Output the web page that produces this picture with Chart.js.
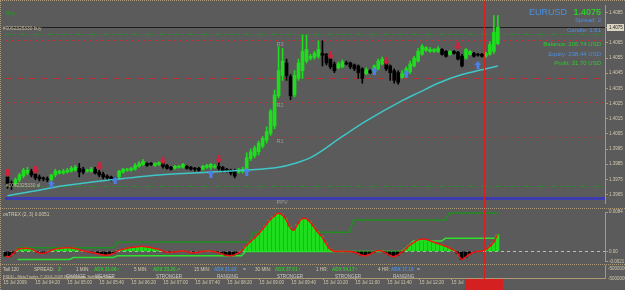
<!DOCTYPE html>
<html>
<head>
<meta charset="utf-8">
<script src="https://cdn.jsdelivr.net/npm/chart.js@4.4.1/dist/chart.umd.min.js"></script>
<style>
  html, body { margin: 0; padding: 0; background: #5b5b5b; }
  #wrap { position: relative; width: 625px; height: 290px; overflow: hidden; background: #5b5b5b; }
  canvas { position: absolute; left: 0; }
  .sep { position: absolute; left: 0; width: 625px; height: 0; border-top: 1px dotted #ae9a76; }
</style>
</head>
<body>
<div id="wrap">
  <canvas id="mainChart" width="625" height="208" style="top:0px"></canvas>
  <canvas id="oscChart" width="625" height="57" style="top:208px"></canvas>
  <canvas id="panelChart" width="625" height="25" style="top:265px"></canvas>
  <div class="sep" style="top:0px"></div>
  <div class="sep" style="top:208px"></div>
  <div class="sep" style="top:264px"></div>
  <div style="position:absolute;left:0;top:0;width:0;height:290px;border-left:1px dotted #ae9a76"></div>
</div>
<script>
// M5 candles, EURUSD
const opens = [
  1.39766, 1.39728, 1.39721, 1.39747, 1.39772, 1.39791, 1.39804, 1.39785, 1.39766, 1.39760,
  1.39753, 1.39747, 1.39779, 1.39791, 1.39791, 1.39798, 1.39804, 1.39810, 1.39823, 1.39817,
  1.39804, 1.39804, 1.39817, 1.39798, 1.39785, 1.39772, 1.39766, 1.39760, 1.39766, 1.39798,
  1.39810, 1.39810, 1.39817, 1.39836, 1.39849, 1.39855, 1.39855, 1.39842, 1.39849, 1.39855,
  1.39842, 1.39830, 1.39823, 1.39830, 1.39830, 1.39836, 1.39830, 1.39823, 1.39823, 1.39817,
  1.39830, 1.39830, 1.39830, 1.39836, 1.39830, 1.39817, 1.39810, 1.39804, 1.39798, 1.39804,
  1.39817, 1.39887, 1.39906, 1.39932, 1.39970, 1.40008, 1.40053, 1.40103, 1.40301, 1.40435,
  1.40518, 1.40428, 1.40307, 1.40416, 1.40467, 1.40530, 1.40549, 1.40556, 1.40562, 1.40581,
  1.40575, 1.40543, 1.40511, 1.40486, 1.40492, 1.40518, 1.40518, 1.40505, 1.40498, 1.40479,
  1.40447, 1.40467, 1.40454, 1.40479, 1.40511, 1.40530, 1.40498, 1.40467, 1.40454, 1.40422,
  1.40435, 1.40460, 1.40498, 1.40530, 1.40575, 1.40600, 1.40594, 1.40594, 1.40594, 1.40607,
  1.40594, 1.40575, 1.40594, 1.40588, 1.40562, 1.40549, 1.40575, 1.40581, 1.40575, 1.40575,
  1.40562, 1.40575, 1.40594, 1.40645
];
const highs = [
  1.39785, 1.39740, 1.39760, 1.39791, 1.39823, 1.39830, 1.39817, 1.39798, 1.39779, 1.39766,
  1.39766, 1.39785, 1.39817, 1.39810, 1.39817, 1.39823, 1.39836, 1.39842, 1.39855, 1.39830,
  1.39817, 1.39830, 1.39830, 1.39810, 1.39798, 1.39779, 1.39772, 1.39766, 1.39810, 1.39823,
  1.39823, 1.39830, 1.39855, 1.39868, 1.39881, 1.39861, 1.39861, 1.39861, 1.39868, 1.39861,
  1.39849, 1.39836, 1.39842, 1.39842, 1.39855, 1.39842, 1.39836, 1.39830, 1.39830, 1.39842,
  1.39849, 1.39855, 1.39849, 1.39861, 1.39836, 1.39823, 1.39817, 1.39817, 1.39823, 1.39830,
  1.39925, 1.39951, 1.39970, 1.40002, 1.40033, 1.40097, 1.40212, 1.40339, 1.40626, 1.40613,
  1.40543, 1.40441, 1.40467, 1.40543, 1.40702, 1.40702, 1.40575, 1.40594, 1.40664, 1.40664,
  1.40581, 1.40556, 1.40524, 1.40524, 1.40537, 1.40530, 1.40524, 1.40511, 1.40505, 1.40486,
  1.40486, 1.40473, 1.40505, 1.40543, 1.40556, 1.40537, 1.40505, 1.40479, 1.40467, 1.40467,
  1.40492, 1.40530, 1.40562, 1.40613, 1.40639, 1.40626, 1.40619, 1.40613, 1.40626, 1.40613,
  1.40600, 1.40600, 1.40600, 1.40594, 1.40575, 1.40613, 1.40600, 1.40588, 1.40581, 1.40581,
  1.40588, 1.40658, 1.40830, 1.40830
];
const lows = [
  1.39690, 1.39683, 1.39708, 1.39734, 1.39760, 1.39779, 1.39766, 1.39747, 1.39740, 1.39740,
  1.39734, 1.39728, 1.39766, 1.39785, 1.39785, 1.39791, 1.39798, 1.39804, 1.39766, 1.39785,
  1.39798, 1.39798, 1.39785, 1.39766, 1.39753, 1.39747, 1.39740, 1.39734, 1.39753, 1.39791,
  1.39804, 1.39804, 1.39810, 1.39830, 1.39842, 1.39836, 1.39842, 1.39836, 1.39842, 1.39823,
  1.39817, 1.39810, 1.39817, 1.39823, 1.39823, 1.39817, 1.39810, 1.39804, 1.39804, 1.39810,
  1.39823, 1.39817, 1.39823, 1.39810, 1.39798, 1.39798, 1.39779, 1.39760, 1.39791, 1.39791,
  1.39804, 1.39874, 1.39893, 1.39912, 1.39957, 1.39989, 1.40040, 1.40084, 1.40288, 1.40403,
  1.40403, 1.40275, 1.40295, 1.40403, 1.40416, 1.40518, 1.40537, 1.40543, 1.40549, 1.40498,
  1.40505, 1.40479, 1.40454, 1.40479, 1.40486, 1.40505, 1.40479, 1.40467, 1.40416, 1.40384,
  1.40441, 1.40447, 1.40447, 1.40473, 1.40505, 1.40467, 1.40403, 1.40384, 1.40377, 1.40416,
  1.40428, 1.40447, 1.40492, 1.40524, 1.40569, 1.40594, 1.40588, 1.40588, 1.40588, 1.40569,
  1.40556, 1.40569, 1.40575, 1.40537, 1.40492, 1.40543, 1.40569, 1.40556, 1.40562, 1.40556,
  1.40556, 1.40569, 1.40581, 1.40639
];
const closes = [
  1.39715, 1.39702, 1.39747, 1.39779, 1.39810, 1.39810, 1.39779, 1.39760, 1.39753, 1.39753,
  1.39747, 1.39779, 1.39804, 1.39804, 1.39804, 1.39810, 1.39823, 1.39830, 1.39798, 1.39798,
  1.39810, 1.39817, 1.39791, 1.39779, 1.39766, 1.39760, 1.39747, 1.39747, 1.39804, 1.39817,
  1.39817, 1.39823, 1.39842, 1.39855, 1.39868, 1.39842, 1.39849, 1.39855, 1.39861, 1.39836,
  1.39823, 1.39817, 1.39836, 1.39836, 1.39849, 1.39823, 1.39817, 1.39817, 1.39810, 1.39836,
  1.39842, 1.39849, 1.39836, 1.39823, 1.39804, 1.39810, 1.39791, 1.39772, 1.39810, 1.39817,
  1.39893, 1.39932, 1.39957, 1.39989, 1.40021, 1.40065, 1.40199, 1.40307, 1.40467, 1.40530,
  1.40435, 1.40301, 1.40435, 1.40518, 1.40594, 1.40607, 1.40562, 1.40581, 1.40607, 1.40569,
  1.40518, 1.40492, 1.40467, 1.40511, 1.40524, 1.40511, 1.40492, 1.40479, 1.40454, 1.40416,
  1.40473, 1.40454, 1.40498, 1.40530, 1.40543, 1.40479, 1.40454, 1.40403, 1.40390, 1.40447,
  1.40479, 1.40511, 1.40549, 1.40594, 1.40626, 1.40619, 1.40607, 1.40607, 1.40613, 1.40575,
  1.40562, 1.40594, 1.40581, 1.40543, 1.40498, 1.40607, 1.40594, 1.40562, 1.40569, 1.40562,
  1.40581, 1.40639, 1.40721, 1.40753
];

// moving average (read at these bars)
const maIndex = [0, 6, 14, 26, 38, 51, 59, 68, 72, 76, 84, 90, 99, 103, 108, 114, 119, 123];
const maValues = [1.39642, 1.39670, 1.39708, 1.39747, 1.39779, 1.39798, 1.39810, 1.39830, 1.39855,
  1.39893, 1.40033, 1.40135, 1.40269, 1.40320, 1.40384, 1.40441, 1.40473, 1.40498];

// signal arrows
const sellIndex = [0, 7, 23, 39, 53, 81, 95, 113];
const sellPrices = [1.39791, 1.39810, 1.39836, 1.39874, 1.39884, 1.40569, 1.40530, 1.40629];
const buyIndex = [11, 27, 51, 60, 92, 100, 118];
const buyPrices = [1.39718, 1.39744, 1.39785, 1.39798, 1.40463, 1.40447, 1.40505];

const priceTicks = [1.3965, 1.3975, 1.3985, 1.3995, 1.4005, 1.4015, 1.4025, 1.4035, 1.4045, 1.4055, 1.4065, 1.4075, 1.4085];

// pivots and order lines
const pivotNames = ['R3', 'R2', 'R1', 'PPV'];
const pivotPrices = [1.40667, 1.40263, 1.40027, 1.39626];
const orderPrices = [1.40709, 1.39709];
const stopPrices = [1.40416];
const cursorIndex = 119.6;

// osTREX sub window
const oscValues = [
  -0.0010, -0.0011, -0.0004, 0.0004, 0.0006, 0.0007, 0.0006, 0.0003, -0.0002, -0.0004,
  -0.0003, 0.0001, 0.0004, 0.0006, 0.0007, 0.0008, 0.0008, 0.0007, 0.0005, 0.0002,
  0.0000, -0.0001, -0.0003, -0.0005, -0.0007, -0.0008, -0.0007, -0.0004, 0.0001, 0.0004,
  0.0006, 0.0008, 0.0009, 0.0010, 0.0011, 0.0010, 0.0009, 0.0007, 0.0005, 0.0002,
  -0.0001, -0.0002, -0.0001, 0.0000, 0.0001, 0.0000, -0.0002, -0.0003, -0.0002, 0.0000,
  0.0001, 0.0001, 0.0000, -0.0002, -0.0005, -0.0008, -0.0009, -0.0008, -0.0004, 0.0001,
  0.0011, 0.0019, 0.0027, 0.0035, 0.0045, 0.0055, 0.0066, 0.0074, 0.0081, 0.0079,
  0.0070, 0.0053, 0.0045, 0.0058, 0.0069, 0.0070, 0.0064, 0.0053, 0.0042, 0.0032,
  0.0019, 0.0006, 0.0001, 0.0000, 0.0001, 0.0000, 0.0000, -0.0001, -0.0004, -0.0008,
  -0.0009, -0.0006, -0.0002, 0.0002, 0.0001, -0.0003, -0.0008, -0.0011, -0.0008, -0.0002,
  0.0005, 0.0013, 0.0019, 0.0024, 0.0026, 0.0026, 0.0023, 0.0020, 0.0017, 0.0014,
  0.0011, 0.0007, 0.0003, -0.0004, -0.0017, -0.0012, -0.0006, -0.0002, 0.0000, 0.0001,
  0.0004, 0.0010, 0.0019, 0.0036
];
const oscTicks = [0.0084, 0, -0.0021];
const signalIndex = [3, 27, 28, 61, 62, 86, 87, 110, 111, 123];
const signalValues = [0.0008, 0.0008, 0.0020, 0.0020, 0.0041, 0.0041, 0.0067, 0.0067, 0.0082, 0.0082];
const trailIndex = [3, 16, 17, 27, 28, 59, 60, 99, 100, 101, 102, 109, 110, 123];
const trailValues = [-0.0017, -0.0017, -0.0013, -0.0013, -0.0009, -0.0009, 0.0000, 0.0000,
  0.0006, 0.0014, 0.0022, 0.0022, 0.0028, 0.0028];

const timeLabels = ['15 Jul 2009', '15 Jul 04:20', '15 Jul 05:00', '15 Jul 05:40', '15 Jul 06:20',
  '15 Jul 07:00', '15 Jul 07:40', '15 Jul 08:20', '15 Jul 09:00', '15 Jul 09:40', '15 Jul 10:20',
  '15 Jul 11:00', '15 Jul 11:40', '15 Jul 12:20', '15 Jul 13:00'];

const FONT = "'Liberation Sans', Arial, sans-serif";
const BULL = '#1edc1e', BEAR = '#000000', TAN = '#d2c8ac', AXIS = '#ac9872';
const GREEN = '#2ccc2c', BLUE = '#4a90e2', LIGHT = '#c8c8c8';
Chart.defaults.font.family = FONT;

const xRange = { type: 'linear', display: false, min: -0.625, max: 149.875, offset: false };
const last = closes.length - 1;

function makeArrow(color, down) {
  const c = document.createElement('canvas');
  c.width = 7; c.height = 8;
  const g = c.getContext('2d');
  g.fillStyle = color;
  g.beginPath();
  if (down) { g.rect(2, 0, 3, 4); g.moveTo(0, 4); g.lineTo(7, 4); g.lineTo(3.5, 8); }
  else { g.rect(2, 4, 3, 4); g.moveTo(0, 4); g.lineTo(7, 4); g.lineTo(3.5, 0); }
  g.fill();
  return c;
}

// text notes, y given in page coordinates
const notes = {
  id: 'notes',
  afterDraw(chart, args, opts) {
    const ctx = chart.ctx, top = chart.canvas.offsetTop;
    (opts.items || []).forEach(n => {
      ctx.save();
      ctx.font = (n.bold ? 'bold ' : '') + n.size + 'px ' + FONT;
      ctx.fillStyle = n.color;
      ctx.textAlign = n.align || 'left';
      ctx.textBaseline = 'middle';
      ctx.fillText(n.text, n.x, n.y - top);
      ctx.restore();
    });
  }
};

const cursorLine = {
  id: 'cursorLine',
  afterDatasetsDraw(chart) {
    const { ctx, scales: { x } } = chart;
    const px = Math.round(x.getPixelForValue(cursorIndex)) + 0.5;
    ctx.save();
    ctx.strokeStyle = '#d81e1e';
    ctx.lineWidth = 1;
    ctx.beginPath(); ctx.moveTo(px, 0); ctx.lineTo(px, chart.height); ctx.stroke();
    ctx.restore();
  }
};

function hline(chart, v, color, width, dash) {
  const { ctx, chartArea: a, scales: { y } } = chart;
  let py = Math.round(y.getPixelForValue(v));
  if (width % 2) py += 0.5;
  ctx.save();
  ctx.strokeStyle = color; ctx.lineWidth = width; ctx.setLineDash(dash);
  ctx.beginPath(); ctx.moveTo(a.left, py); ctx.lineTo(a.right, py); ctx.stroke();
  ctx.restore();
}

const pivotStyles = [
  { color: '#d42a2a', width: 1, dash: [3, 3] },
  { color: '#c03030', width: 1, dash: [1, 2] },
  { color: '#9a3c3c', width: 1, dash: [1, 2] },
  { color: '#3c3cb0', width: 3, dash: [] }
];

const priceLines = {
  id: 'priceLines',
  beforeDatasetsDraw(chart) {
    const { ctx, scales: { x, y } } = chart;
    pivotPrices.forEach((p, k) => hline(chart, p, pivotStyles[k].color, pivotStyles[k].width, pivotStyles[k].dash));
    stopPrices.forEach(p => hline(chart, p, '#c42a2a', 1, [7, 5]));
    orderPrices.forEach(p => hline(chart, p, '#2b8a2b', 1, [6, 3, 2, 3]));
    hline(chart, closes[last], '#1e1e1e', 1, []);
    ctx.save();
    ctx.font = '5.5px ' + FONT;
    ctx.fillStyle = '#9c9c9c';
    ctx.textBaseline = 'top';
    const lx = x.getPixelForValue(67.5);
    pivotPrices.forEach((p, k) => ctx.fillText(pivotNames[k], lx, y.getPixelForValue(p) + 1.5));
    ctx.restore();
  },
  afterDraw(chart) {
    // current price box on the axis
    const { ctx, chartArea: a, scales: { y } } = chart;
    const py = Math.round(y.getPixelForValue(closes[last]));
    ctx.save();
    ctx.fillStyle = '#ddd6c2';
    ctx.fillRect(a.right + 2, py - 3, 17, 7);
    ctx.fillStyle = '#202020';
    ctx.font = '4.5px ' + FONT;
    ctx.textBaseline = 'middle';
    ctx.fillText(closes[last].toFixed(4), a.right + 4, py + 0.5);
    ctx.restore();
  }
};

const candleIdx = closes.map((c, i) => i);
const candleColor = ctx => closes[ctx.dataIndex] >= opens[ctx.dataIndex] ? BULL : BEAR;

new Chart(document.getElementById('mainChart'), {
  type: 'bar',
  data: {
    datasets: [
      {
        type: 'line', data: sellIndex.map((x, k) => ({ x, y: sellPrices[k] })),
        showLine: false, pointStyle: makeArrow('#d0223c', true), pointRadius: 4, order: -2
      },
      {
        type: 'line', data: buyIndex.map((x, k) => ({ x, y: buyPrices[k] })),
        showLine: false, pointStyle: makeArrow('#4d7fe6', false), pointRadius: 4, order: -1
      },
      {
        type: 'line', data: maIndex.map((x, k) => ({ x, y: maValues[k] })),
        borderColor: '#3fc6c6', borderWidth: 1.5, pointRadius: 0,
        cubicInterpolationMode: 'monotone', order: 0
      },
      {
        data: candleIdx.map(i => ({ x: i, y: [opens[i], closes[i]] })),
        backgroundColor: candleColor, barThickness: 3, minBarLength: 1, grouped: false, order: 1
      },
      {
        data: candleIdx.map(i => ({ x: i, y: [lows[i], highs[i]] })),
        backgroundColor: candleColor, barThickness: 1, grouped: false, order: 2
      }
    ]
  },
  options: {
    responsive: false,
    animation: false,
    layout: { padding: { left: 3, top: 2, right: 0, bottom: 1 } },
    plugins: {
      legend: { display: false },
      tooltip: { enabled: false },
      notes: {
        items: [
          { text: 'Buy', x: 6, y: 13, color: '#2a962a', size: 5.5 },
          { text: '#0062325330 buy', x: 3, y: 29, color: '#c4b89c', size: 4.8 },
          { text: '#0062325330 sl', x: 6, y: 186, color: '#c4b89c', size: 4.8 },
          { text: 'EURUSD', x: 567, y: 13, color: BLUE, size: 9, align: 'right' },
          { text: closes[last].toFixed(4), x: 601, y: 13, color: GREEN, size: 9, bold: true, align: 'right' },
          { text: 'Spread: 2', x: 601, y: 20.5, color: BLUE, size: 6, align: 'right' },
          { text: 'Candle: 1:51', x: 601, y: 30, color: BLUE, size: 6, align: 'right' },
          { text: 'Balance: 206.74 USD', x: 601, y: 44, color: GREEN, size: 6, align: 'right' },
          { text: 'Equity: 238.44 USD', x: 601, y: 54, color: BLUE, size: 6, align: 'right' },
          { text: 'Profit: 31.70 USD', x: 601, y: 63, color: GREEN, size: 6, align: 'right' }
        ]
      }
    },
    scales: {
      x: { ...xRange },
      y: {
        position: 'right', min: 1.39594, max: 1.40900,
        afterBuildTicks: s => { s.ticks = priceTicks.map(v => ({ value: v })); },
        afterFit: s => { s.width = 20; },
        ticks: { color: TAN, font: { size: 4.5 }, padding: 1, callback: v => Number(v).toFixed(4) },
        grid: { drawOnChartArea: false, tickLength: 3, color: AXIS },
        border: { display: true, color: AXIS }
      }
    }
  },
  plugins: [priceLines, cursorLine, notes]
});

const zeroLine = {
  id: 'zeroLine',
  beforeDatasetsDraw(chart) { hline(chart, 0, '#bdbdbd', 1, [3, 3]); }
};

new Chart(document.getElementById('oscChart'), {
  type: 'bar',
  data: {
    datasets: [
      {
        type: 'line', data: oscValues.map((v, i) => ({ x: i, y: v })),
        borderColor: '#f01414', borderWidth: 1.5, pointRadius: 0, tension: 0.4, order: 1
      },
      {
        data: oscValues.map((v, i) => ({ x: i, y: v })),
        backgroundColor: ctx => oscValues[ctx.dataIndex] >= 0 ? BULL : BEAR,
        barThickness: 3, grouped: false, order: 2
      },
      {
        type: 'line', data: trailIndex.map((x, k) => ({ x, y: trailValues[k] })),
        borderColor: '#2ee02e', borderWidth: 1.5, pointRadius: 0, order: 3
      },
      {
        type: 'line', data: signalIndex.map((x, k) => ({ x, y: signalValues[k] })),
        borderColor: '#1f8f1f', borderWidth: 1.5, pointRadius: 0, order: 4
      }
    ]
  },
  options: {
    responsive: false,
    animation: false,
    layout: { padding: { left: 3, top: 4, right: 0, bottom: 2 } },
    plugins: {
      legend: { display: false },
      tooltip: { enabled: false },
      notes: {
        items: [{ text: 'osTREX (2, 3) 0.0051', x: 3, y: 215, color: TAN, size: 4.8 }]
      }
    },
    scales: {
      x: { ...xRange },
      y: {
        position: 'right', min: -0.0021, max: 0.0084,
        afterBuildTicks: s => { s.ticks = oscTicks.map(v => ({ value: v })); },
        afterFit: s => { s.width = 20; },
        ticks: { color: TAN, font: { size: 4.5 }, padding: 1, callback: v => v === 0 ? '0.00' : Number(v).toFixed(4) },
        grid: { drawOnChartArea: false, tickLength: 3, color: AXIS },
        border: { display: true, color: AXIS }
      }
    }
  },
  plugins: [zeroLine, cursorLine, notes]
});

const cursorBox = {
  id: 'cursorBox',
  afterDraw(chart) {
    const { ctx, chartArea: a, scales: { x } } = chart;
    const px = Math.round(x.getPixelForValue(cursorIndex));
    ctx.save();
    ctx.fillStyle = '#d42020';
    ctx.fillRect(px - 19, a.bottom + 1, 38, chart.height - a.bottom - 1);
    ctx.restore();
  }
};

const row1 = 270, row2 = 277;
new Chart(document.getElementById('panelChart'), {
  type: 'line',
  data: { datasets: [] },
  options: {
    responsive: false,
    animation: false,
    layout: { padding: { left: 3, top: 0, right: 0, bottom: 0 } },
    plugins: {
      legend: { display: false },
      tooltip: { enabled: false },
      notes: {
        items: [
          { text: 'Tall 120', x: 3, y: row1, color: TAN, size: 4.6 },
          { text: 'SPREAD:', x: 34, y: row1, color: TAN, size: 4.6 },
          { text: '2', x: 58, y: row1, color: GREEN, size: 5, bold: true },
          { text: '1 MIN:', x: 76, y: row1, color: TAN, size: 4.6 },
          { text: 'ADX 31.06', x: 94, y: row1, color: GREEN, size: 4.6, bold: true },
          { text: '↑', x: 117, y: row1, color: GREEN, size: 5, bold: true },
          { text: '5 MIN:', x: 134, y: row1, color: TAN, size: 4.6 },
          { text: 'ADX 23.20', x: 153, y: row1, color: GREEN, size: 4.6, bold: true },
          { text: '↗', x: 176, y: row1, color: GREEN, size: 5, bold: true },
          { text: '15 MIN:', x: 194, y: row1, color: TAN, size: 4.6 },
          { text: 'ADX 21.92', x: 214, y: row1, color: BLUE, size: 4.6, bold: true },
          { text: '=', x: 243, y: row1, color: '#9cc4ee', size: 5, bold: true },
          { text: '30 MIN:', x: 255, y: row1, color: TAN, size: 4.6 },
          { text: 'ADX 37.51', x: 275, y: row1, color: GREEN, size: 4.6, bold: true },
          { text: '↑', x: 298, y: row1, color: GREEN, size: 5, bold: true },
          { text: '1 HR:', x: 316, y: row1, color: TAN, size: 4.6 },
          { text: 'ADX 54.17', x: 332, y: row1, color: GREEN, size: 4.6, bold: true },
          { text: '↑', x: 355, y: row1, color: GREEN, size: 5, bold: true },
          { text: '4 HR:', x: 378, y: row1, color: TAN, size: 4.6 },
          { text: 'ADX 17.18', x: 391, y: row1, color: BLUE, size: 4.6, bold: true },
          { text: '=', x: 417, y: row1, color: '#9cc4ee', size: 5, bold: true },
          { text: 'FXDD - MetaTrader, © 2001-2009 MetaQuotes Software Corp.', x: 3, y: row2, color: TAN, size: 4 },
          { text: 'CHANGE', x: 66, y: row2, color: LIGHT, size: 4.6 },
          { text: 'WEAKER', x: 95, y: row2, color: LIGHT, size: 4.6 },
          { text: 'STRONGER', x: 156, y: row2, color: LIGHT, size: 4.6 },
          { text: 'RANGING', x: 217, y: row2, color: LIGHT, size: 4.6 },
          { text: 'STRONGER', x: 277, y: row2, color: LIGHT, size: 4.6 },
          { text: 'STRONGER', x: 335, y: row2, color: LIGHT, size: 4.6 },
          { text: 'RANGING', x: 393, y: row2, color: LIGHT, size: 4.6 },
          { text: '-5000000', x: 608, y: 269, color: TAN, size: 4.5 },
          { text: '-5000000', x: 608, y: 279, color: TAN, size: 4.5 }
        ]
      }
    },
    scales: {
      x: {
        type: 'linear', position: 'bottom', min: -0.625, max: 149.875, offset: false,
        afterBuildTicks: s => { s.ticks = timeLabels.map((t, k) => ({ value: k * 8 - 0.5 })); },
        afterFit: s => { s.height = 12; },
        ticks: {
          color: TAN, font: { size: 4.5 }, padding: 0, align: 'start',
          autoSkip: false, maxRotation: 0, minRotation: 0,
          callback: (v, i) => timeLabels[i]
        },
        grid: { drawOnChartArea: false, tickLength: 2, color: AXIS },
        border: { display: true, color: AXIS }
      },
      y: {
        position: 'right', min: 0, max: 1,
        afterFit: s => { s.width = 20; },
        ticks: { display: false },
        grid: { display: false },
        border: { display: true, color: AXIS }
      }
    }
  },
  plugins: [cursorLine, cursorBox, notes]
});
</script>
</body>
</html>
